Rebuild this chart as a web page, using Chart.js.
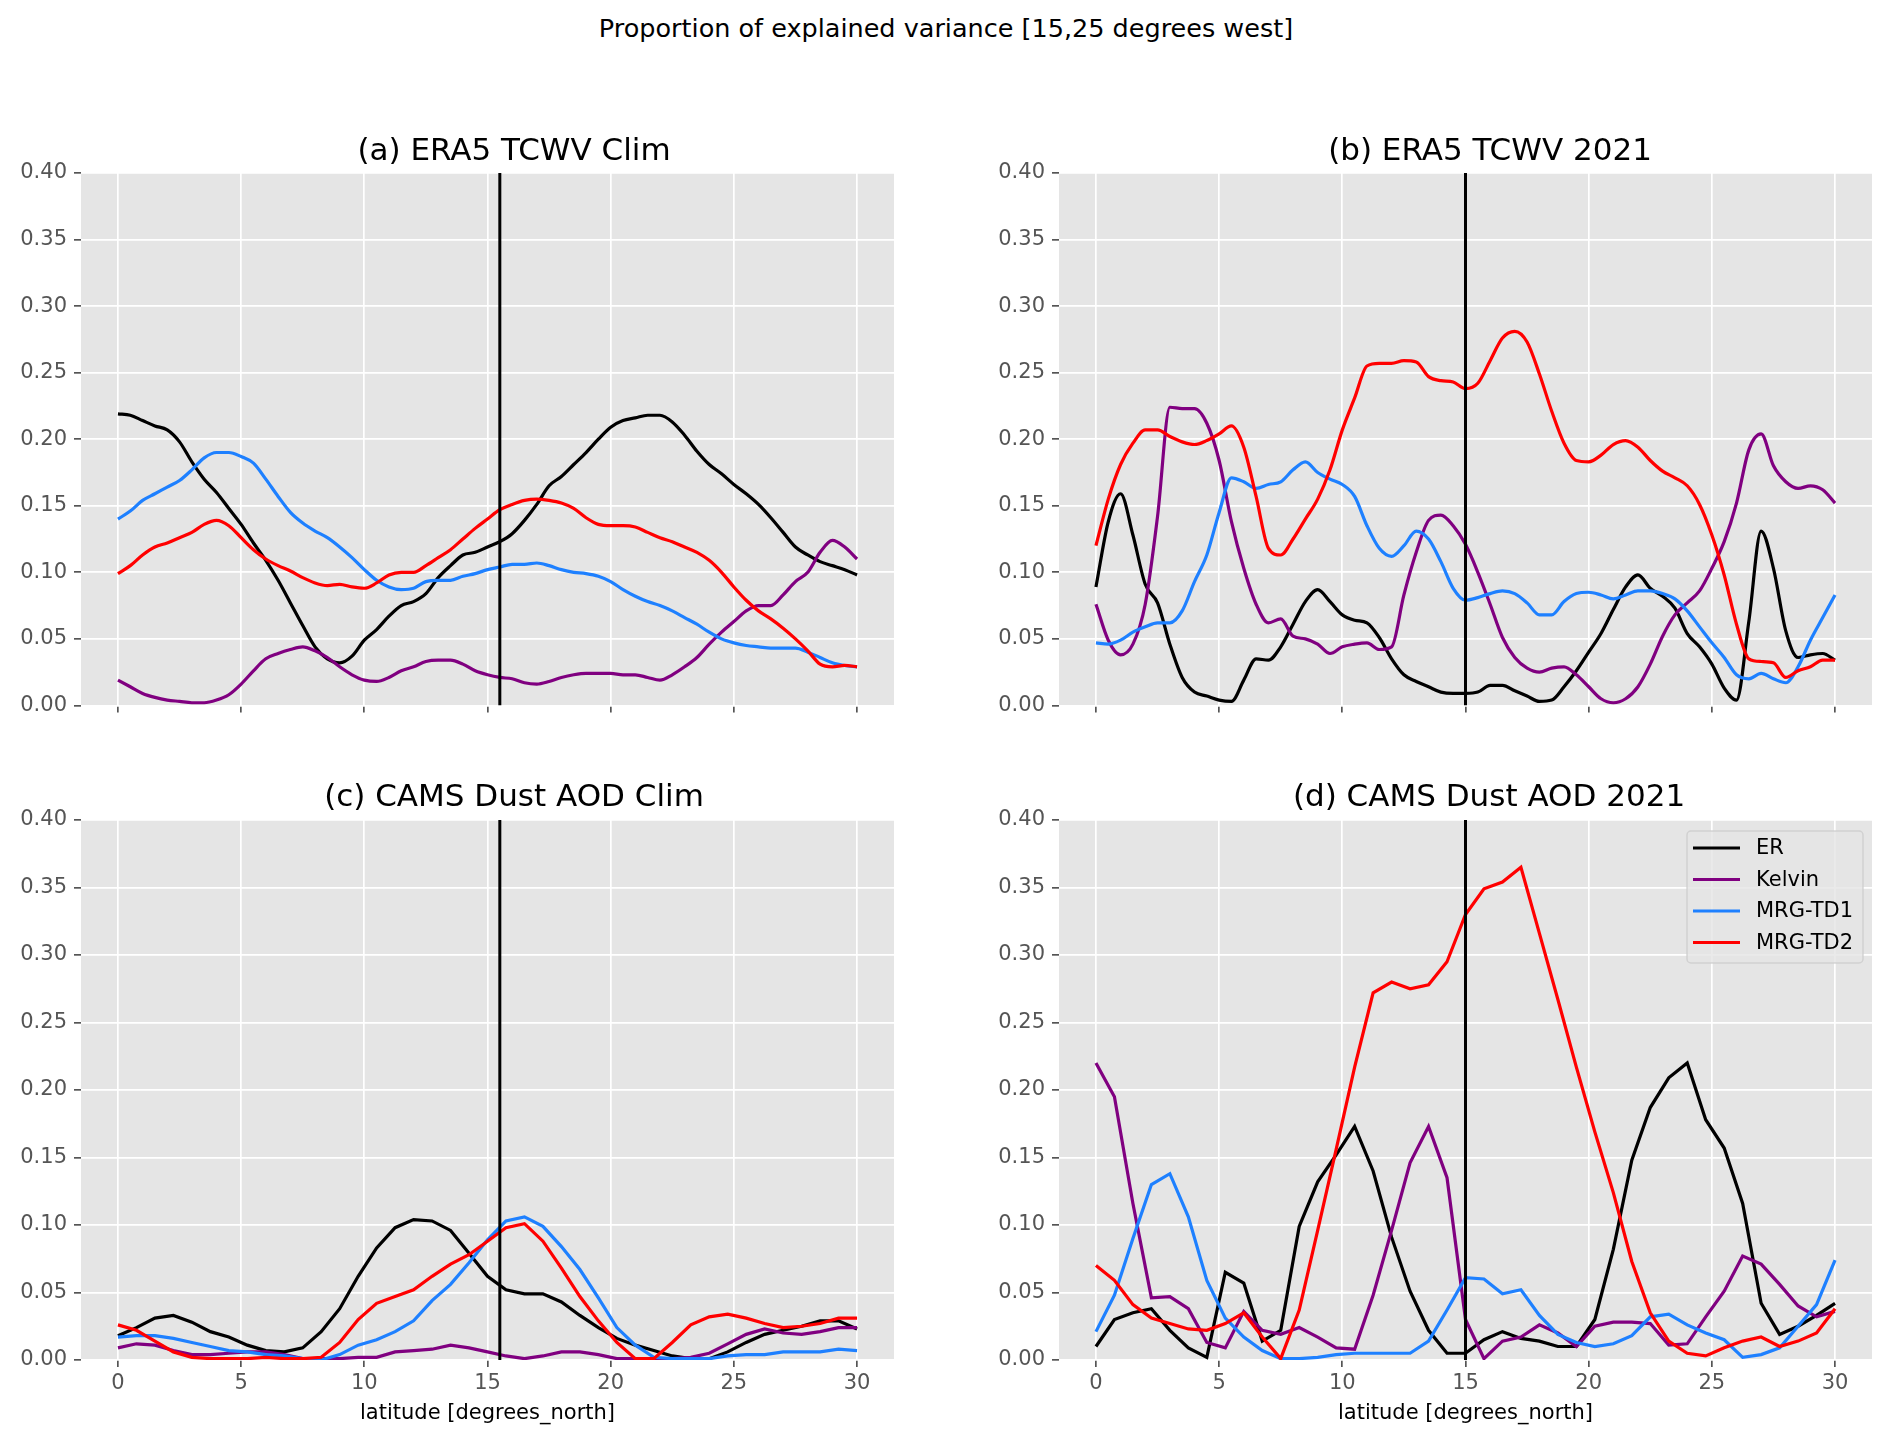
<!DOCTYPE html>
<html>
<head>
<meta charset="utf-8">
<title>Proportion of explained variance</title>
<script src="https://cdn.jsdelivr.net/npm/chart.js@4.4.1/dist/chart.umd.min.js"></script>
<style>
  html, body { margin: 0; padding: 0; background: #ffffff; }
  #fig { position: relative; width: 1892px; height: 1445px; background: #ffffff; font-family: 'DejaVu Sans', sans-serif; }
  #suptitle { position: absolute; left: 0; top: 13px; width: 1892px; text-align: center; font-size: 25.5px; line-height: 30px; color: #000000; }
  .panel-title { position: absolute; transform: translateX(-50%); white-space: nowrap; font-size: 31px; line-height: 36px; color: #000000; }
  #fig canvas { position: absolute; }
</style>
</head>
<body>
<div id="fig">
  <div id="suptitle">Proportion of explained variance [15,25 degrees west]</div>
  <canvas id="panel_a" width="946" height="625" style="left:0px;top:100px"></canvas>
  <canvas id="panel_b" width="946" height="625" style="left:946px;top:100px"></canvas>
  <canvas id="panel_c" width="946" height="705" style="left:0px;top:740px"></canvas>
  <canvas id="panel_d" width="946" height="705" style="left:946px;top:740px"></canvas>
</div>
<script>
// ------------------------------------------------------------ DATA
const seriesNames  = ['ER', 'Kelvin', 'MRG-TD1', 'MRG-TD2'];
const seriesColors = ['#000000', '#800080', '#1E80FF', '#FF0000'];
const panelTitles  = ['(a) ERA5 TCWV Clim', '(b) ERA5 TCWV 2021', '(c) CAMS Dust AOD Clim', '(d) CAMS Dust AOD 2021'];
const refLat       = [15.5, 15, 15.5, 15];
const latTicks     = [0, 5, 10, 15, 20, 25, 30];
const varTicks     = [0, 0.05, 0.10, 0.15, 0.20, 0.25, 0.30, 0.35, 0.40];
const xLabel       = 'latitude [degrees_north]';

// ERA5 latitudes (0.5 deg)
const latEra5 = [0,0.5,1,1.5,2,2.5,3,3.5,4,4.5,5,5.5,6,6.5,7,7.5,8,8.5,9,9.5,10,10.5,11,11.5,12,12.5,13,13.5,14,14.5,15,
                 15.5,16,16.5,17,17.5,18,18.5,19,19.5,20,20.5,21,21.5,22,22.5,23,23.5,24,24.5,25,25.5,26,26.5,27,27.5,28,28.5,29,29.5,30];
// CAMS latitudes (0.75 deg)
const latCams = [0,0.75,1.5,2.25,3,3.75,4.5,5.25,6,6.75,7.5,8.25,9,9.75,10.5,11.25,12,12.75,13.5,14.25,15,
                 15.75,16.5,17.25,18,18.75,19.5,20.25,21,21.75,22.5,23.25,24,24.75,25.5,26.25,27,27.75,28.5,29.25,30];

// (a) ERA5 TCWV Clim
const tcwvClimER     = [0.219,0.218,0.214,0.210,0.207,0.198,0.183,0.170,0.160,0.148,0.136,0.122,0.109,0.094,0.077,0.060,0.044,0.035,0.032,0.037,0.049,0.057,0.067,0.075,0.078,0.084,0.096,0.105,0.113,0.115,0.119,
                        0.123,0.129,0.139,0.151,0.165,0.172,0.181,0.190,0.200,0.209,0.214,0.216,0.218,0.218,0.213,0.203,0.191,0.181,0.174,0.166,0.159,0.151,0.141,0.130,0.119,0.113,0.108,0.105,0.102,0.098];
const tcwvClimKelvin = [0.019,0.014,0.009,0.006,0.004,0.003,0.002,0.002,0.004,0.008,0.016,0.026,0.035,0.039,0.042,0.044,0.041,0.036,0.029,0.023,0.019,0.018,0.021,0.026,0.029,0.033,0.034,0.034,0.031,0.026,0.023,
                        0.021,0.020,0.017,0.016,0.018,0.021,0.023,0.024,0.024,0.024,0.023,0.023,0.021,0.019,0.023,0.029,0.036,0.046,0.055,0.063,0.071,0.075,0.075,0.083,0.093,0.100,0.115,0.124,0.119,0.110];
const tcwvClimTD1    = [0.140,0.146,0.154,0.159,0.164,0.169,0.177,0.186,0.190,0.190,0.187,0.182,0.170,0.157,0.145,0.137,0.131,0.126,0.119,0.111,0.102,0.094,0.089,0.087,0.088,0.093,0.094,0.094,0.097,0.099,0.102,
                        0.104,0.106,0.106,0.107,0.105,0.102,0.100,0.099,0.097,0.093,0.087,0.082,0.078,0.075,0.071,0.066,0.061,0.055,0.050,0.047,0.045,0.044,0.043,0.043,0.043,0.040,0.036,0.032,0.030,0.029];
const tcwvClimTD2    = [0.099,0.105,0.113,0.119,0.122,0.126,0.130,0.136,0.139,0.135,0.126,0.117,0.110,0.105,0.101,0.096,0.092,0.090,0.091,0.089,0.088,0.092,0.098,0.100,0.100,0.105,0.111,0.117,0.125,0.133,0.140,
                        0.147,0.151,0.154,0.155,0.154,0.152,0.148,0.141,0.136,0.135,0.135,0.134,0.130,0.126,0.123,0.119,0.115,0.109,0.100,0.089,0.079,0.071,0.065,0.058,0.050,0.041,0.031,0.029,0.030,0.029];

// (b) ERA5 TCWV 2021
const tcwv2021ER     = [0.089,0.138,0.159,0.128,0.091,0.077,0.046,0.021,0.010,0.007,0.004,0.003,0.019,0.035,0.034,0.044,0.061,0.078,0.087,0.078,0.068,0.064,0.062,0.051,0.035,0.023,0.018,0.014,0.010,0.009,0.009,
                        0.010,0.015,0.015,0.011,0.007,0.003,0.004,0.014,0.026,0.040,0.054,0.072,0.089,0.098,0.088,0.082,0.073,0.054,0.044,0.031,0.013,0.004,0.063,0.131,0.103,0.056,0.036,0.038,0.039,0.034];
const tcwv2021Kelvin = [0.076,0.049,0.038,0.046,0.076,0.142,0.224,0.223,0.223,0.212,0.184,0.138,0.103,0.076,0.062,0.065,0.052,0.050,0.046,0.039,0.044,0.046,0.047,0.042,0.044,0.083,0.115,0.139,0.143,0.135,0.121,
                        0.100,0.076,0.051,0.036,0.028,0.025,0.028,0.029,0.023,0.014,0.005,0.002,0.005,0.014,0.031,0.052,0.068,0.077,0.086,0.103,0.123,0.152,0.192,0.204,0.180,0.168,0.163,0.165,0.162,0.152];
const tcwv2021TD1    = [0.047,0.046,0.049,0.055,0.059,0.062,0.062,0.071,0.093,0.113,0.145,0.171,0.168,0.163,0.166,0.168,0.177,0.183,0.175,0.170,0.166,0.157,0.135,0.118,0.112,0.120,0.131,0.125,0.108,0.088,0.079,
                        0.081,0.084,0.086,0.084,0.077,0.068,0.068,0.078,0.084,0.085,0.083,0.080,0.083,0.086,0.086,0.084,0.080,0.071,0.059,0.047,0.036,0.023,0.020,0.024,0.020,0.017,0.029,0.049,0.066,0.083];
const tcwv2021TD2    = [0.120,0.155,0.181,0.197,0.207,0.207,0.202,0.198,0.196,0.199,0.204,0.210,0.194,0.157,0.118,0.113,0.125,0.140,0.155,0.177,0.207,0.231,0.255,0.257,0.257,0.259,0.258,0.247,0.244,0.243,0.238,
                        0.242,0.259,0.276,0.281,0.273,0.249,0.221,0.197,0.184,0.183,0.188,0.196,0.199,0.194,0.184,0.176,0.171,0.165,0.151,0.128,0.098,0.061,0.035,0.033,0.032,0.021,0.026,0.029,0.034,0.034];

// (c) CAMS Dust AOD Clim
const dustClimER     = [0.018,0.024,0.031,0.033,0.028,0.021,0.017,0.011,0.007,0.006,0.009,0.021,0.038,0.062,0.083,0.098,0.104,0.103,0.096,0.079,0.062,
                        0.052,0.049,0.049,0.043,0.033,0.024,0.016,0.011,0.007,0.003,0.001,0.001,0.006,0.013,0.019,0.022,0.025,0.029,0.029,0.023];
const dustClimKelvin = [0.009,0.012,0.011,0.007,0.004,0.004,0.005,0.006,0.006,0.004,0.001,0.001,0.001,0.002,0.002,0.006,0.007,0.008,0.011,0.009,0.006,
                        0.003,0.001,0.003,0.006,0.006,0.004,0.001,0.001,0.001,0.001,0.002,0.005,0.012,0.019,0.023,0.020,0.019,0.021,0.024,0.024];
const dustClimTD1    = [0.017,0.018,0.018,0.016,0.013,0.010,0.007,0.006,0.004,0.003,0.001,0.000,0.004,0.011,0.015,0.021,0.029,0.044,0.056,0.072,0.089,
                        0.103,0.106,0.099,0.084,0.067,0.046,0.024,0.011,0.002,0.001,0.001,0.001,0.003,0.004,0.004,0.006,0.006,0.006,0.008,0.007];
const dustClimTD2    = [0.026,0.022,0.014,0.006,0.002,0.001,0.001,0.001,0.002,0.001,0.001,0.002,0.013,0.030,0.042,0.047,0.052,0.062,0.071,0.078,0.088,
                        0.098,0.101,0.088,0.068,0.047,0.029,0.013,0.001,0.001,0.013,0.026,0.032,0.034,0.031,0.027,0.024,0.025,0.027,0.031,0.031];

// (d) CAMS Dust AOD 2021
const dust2021ER     = [0.010,0.030,0.035,0.038,0.022,0.009,0.002,0.065,0.057,0.014,0.022,0.099,0.132,0.152,0.173,0.140,0.091,0.051,0.022,0.005,0.005,
                        0.015,0.021,0.016,0.014,0.010,0.010,0.030,0.082,0.148,0.187,0.209,0.220,0.178,0.157,0.116,0.042,0.019,0.025,0.033,0.042];
const dust2021Kelvin = [0.220,0.195,0.116,0.046,0.047,0.038,0.013,0.009,0.036,0.022,0.019,0.024,0.017,0.009,0.008,0.048,0.096,0.146,0.173,0.135,0.030,
                        0.001,0.014,0.017,0.026,0.020,0.010,0.025,0.028,0.028,0.027,0.011,0.012,0.032,0.051,0.077,0.071,0.056,0.040,0.032,0.036];
const dust2021TD1    = [0.021,0.048,0.090,0.130,0.138,0.106,0.059,0.031,0.017,0.007,0.001,0.001,0.002,0.004,0.005,0.005,0.005,0.005,0.014,0.037,0.061,
                        0.060,0.049,0.052,0.033,0.019,0.013,0.010,0.012,0.018,0.032,0.034,0.026,0.020,0.015,0.002,0.004,0.009,0.025,0.041,0.074];
const dust2021TD2    = [0.070,0.059,0.041,0.031,0.027,0.023,0.022,0.027,0.035,0.017,0.001,0.037,0.096,0.156,0.217,0.272,0.280,0.275,0.278,0.295,0.330,
                        0.349,0.354,0.365,0.316,0.267,0.217,0.169,0.124,0.073,0.035,0.014,0.005,0.003,0.009,0.014,0.017,0.010,0.014,0.020,0.038];

Chart.defaults.font.family = "'DejaVu Sans', sans-serif";

// ------------------------------------------------------------ PLUGINS
const plotBackground = {
    id: 'plotBackground',
    beforeDraw(chart) {
        const a = chart.chartArea;
        const ctx = chart.ctx;
        ctx.save();
        ctx.fillStyle = '#E5E5E5';
        ctx.fillRect(a.left, a.top, a.right - a.left, a.bottom - a.top);
        ctx.restore();
    }
};

// legend in the upper right corner of the plot, like matplotlib
const cornerLegend = {
    id: 'cornerLegend',
    afterDraw(chart) {
        const ctx = chart.ctx;
        const a   = chart.chartArea;
        const w = 176, h = 132;
        const x0 = a.right - 9 - w, y0 = a.top + 11;
        ctx.save();
        ctx.beginPath();
        ctx.roundRect(x0, y0, w, h, 4);
        ctx.fillStyle = 'rgba(229,229,229,0.8)';
        ctx.fill();
        ctx.lineWidth = 1.5;
        ctx.strokeStyle = 'rgba(204,204,204,0.8)';
        ctx.stroke();
        ctx.font = "21px 'DejaVu Sans', sans-serif";
        ctx.textBaseline = 'middle';
        ctx.textAlign = 'left';
        seriesNames.forEach(function (name, i) {
            const yy = y0 + 17 + i * 31.5;
            ctx.beginPath();
            ctx.moveTo(x0 + 6, yy);
            ctx.lineTo(x0 + 53, yy);
            ctx.lineWidth = 3.2;
            ctx.strokeStyle = seriesColors[i];
            ctx.stroke();
            ctx.fillStyle = '#000000';
            ctx.fillText(name, x0 + 69, yy + 1);
        });
        ctx.restore();
    }
};

// ------------------------------------------------------------ PANELS
function addPanelTitle(text, centerX, top) {
    const div = document.createElement('div');
    div.className = 'panel-title';
    div.textContent = text;
    div.style.left = centerX + 'px';
    div.style.top = top + 'px';
    document.getElementById('fig').appendChild(div);
}

function drawPanel(canvasId, cfg) {
    const ctx = document.getElementById(canvasId).getContext('2d');

    // ---- datasets
    const datasets = cfg.series.map(function (vals, i) {
        return {
            label: seriesNames[i],
            data: cfg.lat.map((x, k) => ({ x: x, y: vals[k] })),
            borderColor: seriesColors[i],
            backgroundColor: seriesColors[i],
            borderWidth: 3.2,
            pointRadius: 0,
            fill: false,
            tension: 0,
            cubicInterpolationMode: cfg.smooth ? 'monotone' : 'default',
            order: 4 - i
        };
    });
    datasets.push({
        label: 'ref',
        data: [{ x: cfg.ref, y: varTicks[0] }, { x: cfg.ref, y: varTicks[varTicks.length - 1] }],
        borderColor: '#000000',
        borderWidth: 3,
        pointRadius: 0,
        fill: false,
        order: 0
    });

    const gridOpts = { color: '#FFFFFF', lineWidth: 1.7, tickColor: '#555555', tickLength: 7, tickWidth: 1.7, drawTicks: true };

    // ---- chart
    return new Chart(ctx, {
        type: 'line',
        data: { datasets: datasets },
        plugins: cfg.legend ? [plotBackground, cornerLegend] : [plotBackground],
        options: {
            responsive: false,
            maintainAspectRatio: false,
            devicePixelRatio: 1,
            animation: false,
            events: [],
            layout: { padding: { left: 0, right: cfg.padRight, top: cfg.padTop, bottom: 0 } },
            plugins: {
                legend: { display: false },
                tooltip: { enabled: false },
                title: { display: false }
            },
            scales: {
                x: {
                    type: 'linear',
                    min: -1.5,
                    max: 31.5,
                    afterBuildTicks: axis => { axis.ticks = latTicks.map(v => ({ value: v })); },
                    afterFit: axis => { axis.height = cfg.xHeight; },
                    ticks: {
                        display: cfg.showX,
                        color: '#555555',
                        font: { size: 21 },
                        padding: 4,
                        maxRotation: 0,
                        autoSkip: false,
                        callback: v => String(v)
                    },
                    grid: gridOpts,
                    border: { display: false },
                    title: {
                        display: cfg.showX,
                        text: xLabel,
                        color: '#000000',
                        font: { size: 21 },
                        padding: { top: 0, bottom: 19 }
                    }
                },
                y: {
                    min: 0,
                    max: 0.4,
                    afterBuildTicks: axis => { axis.ticks = varTicks.map(v => ({ value: v })); },
                    afterFit: axis => { axis.width = cfg.yWidth; },
                    ticks: {
                        color: '#555555',
                        font: { size: 21 },
                        padding: 7,
                        autoSkip: false,
                        callback: v => Number(v).toFixed(2)
                    },
                    grid: gridOpts,
                    border: { display: false }
                }
            }
        }
    });
}

// ------------------------------------------------------------ DOCUMENT READY
(function () {
    "use strict";
    addPanelTitle(panelTitles[0], 514, 131);
    addPanelTitle(panelTitles[1], 1490, 131);
    addPanelTitle(panelTitles[2], 514, 777);
    addPanelTitle(panelTitles[3], 1489, 777);

    drawPanel('panel_a', {
        lat: latEra5, smooth: true, ref: refLat[0],
        series: [tcwvClimER, tcwvClimKelvin, tcwvClimTD1, tcwvClimTD2],
        padRight: 52, padTop: 73, yWidth: 81, xHeight: 13, showX: false
    });
    drawPanel('panel_b', {
        lat: latEra5, smooth: true, ref: refLat[1],
        series: [tcwv2021ER, tcwv2021Kelvin, tcwv2021TD1, tcwv2021TD2],
        padRight: 20, padTop: 73, yWidth: 113, xHeight: 13, showX: false
    });
    drawPanel('panel_c', {
        lat: latCams, smooth: false, ref: refLat[2],
        series: [dustClimER, dustClimKelvin, dustClimTD1, dustClimTD2],
        padRight: 52, padTop: 80, yWidth: 81, xHeight: 85, showX: true
    });
    drawPanel('panel_d', {
        lat: latCams, smooth: false, ref: refLat[3], legend: true,
        series: [dust2021ER, dust2021Kelvin, dust2021TD1, dust2021TD2],
        padRight: 20, padTop: 80, yWidth: 113, xHeight: 85, showX: true
    });
})();
</script>
</body>
</html>
